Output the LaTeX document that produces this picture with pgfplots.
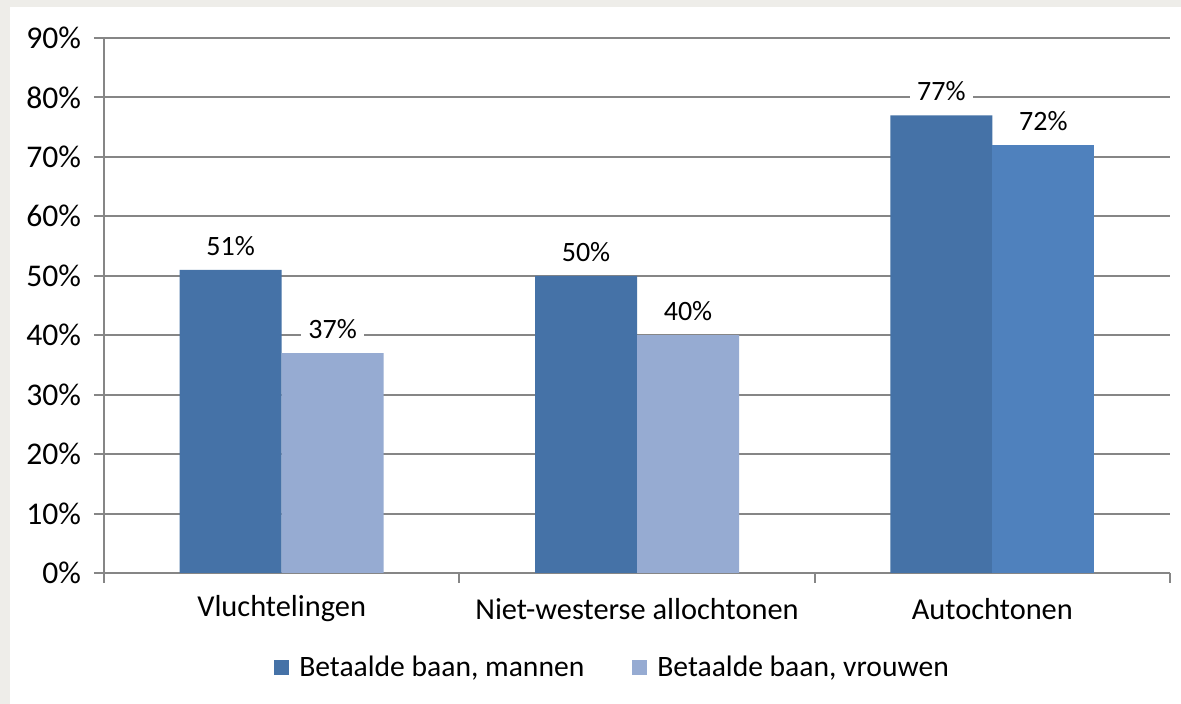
\documentclass[border=0pt]{standalone}
\usepackage{fontspec}
\setmainfont{Carlito}
\usepackage{pgfplots}
\pgfplotsset{compat=1.18}
\definecolor{manblue}{HTML}{4572A7}
\definecolor{vrouwblue}{HTML}{96ABD2}
\definecolor{autoblue}{HTML}{4F81BD}
\definecolor{gridgrey}{HTML}{868686}
\definecolor{bgframe}{HTML}{EEEDE9}
\newcommand{\sq}[1]{\fill[#1] (0pt,-3.75pt) rectangle (7.5pt,3.75pt);}
\begin{document}
\begin{tikzpicture}
\fill[bgframe] (0,0) rectangle (590.5pt,352pt);
\fill[white] (5pt,0) rectangle (590.5pt,348.5pt);
\begin{axis}[
    at={(52pt,65.5pt)}, anchor=south west,
    scale only axis, width=533pt, height=267.5pt,
    ymin=0, ymax=90, ytick={0,10,...,90},
    yticklabel={\pgfmathprintnumber{\tick}\%},
    /pgf/number format/assume math mode=true,
    xmin=-0.5, xmax=2.5,
    xtick={0,1,2},
    xticklabels={Vluchtelingen, Niet-westerse allochtonen, Autochtonen},
    minor xtick={-0.5,0.5,1.5,2.5},
    axis lines*=left,
    axis line style={gridgrey, line width=1pt},
    ymajorgrids, grid style={gridgrey, line width=1pt},
    tick align=outside, tick style={gridgrey, line width=1pt},
    major tick length=5pt, minor tick length=5pt,
    major x tick style={draw=none},
    ticklabel style={text=black},
    xticklabel style={font=\fontsize{15.2}{18}\selectfont, anchor=center, yshift=-13pt},
    yticklabel style={font=\fontsize{15.8}{18}\selectfont, xshift=-3pt},
    ybar, bar width=51pt,
    nodes near coords={\pgfmathprintnumber{\pgfplotspointmeta}\%},
    every node near coord/.append style={font=\fontsize{14}{16}\selectfont,
        text=black, fill=white, inner xsep=3.5pt, inner ysep=1pt,
        anchor=center, yshift=12pt},
    legend style={at={(0.478,0)}, anchor=center, yshift=-47.5pt,
        draw=none, fill=none, font=\fontsize{14.8}{17}\selectfont,
        /tikz/every odd column/.append style={column sep=3pt},
        /tikz/every even column/.append style={column sep=22pt}},
    legend columns=2,
]
\addplot[fill=manblue, draw=none, bar shift=-25.5pt,
    legend image code/.code={\sq{manblue}}]
    coordinates {(0,51) (1,50) (2,77)};
\addplot[fill=vrouwblue, draw=none, bar shift=25.5pt,
    legend image code/.code={\sq{vrouwblue}}]
    coordinates {(0,37) (1,40)};
\addplot[fill=autoblue, draw=none, bar shift=25.5pt, forget plot]
    coordinates {(2,72)};
\legend{{Betaalde baan, mannen}, {Betaalde baan, vrouwen}}
\end{axis}
\end{tikzpicture}
\end{document}
